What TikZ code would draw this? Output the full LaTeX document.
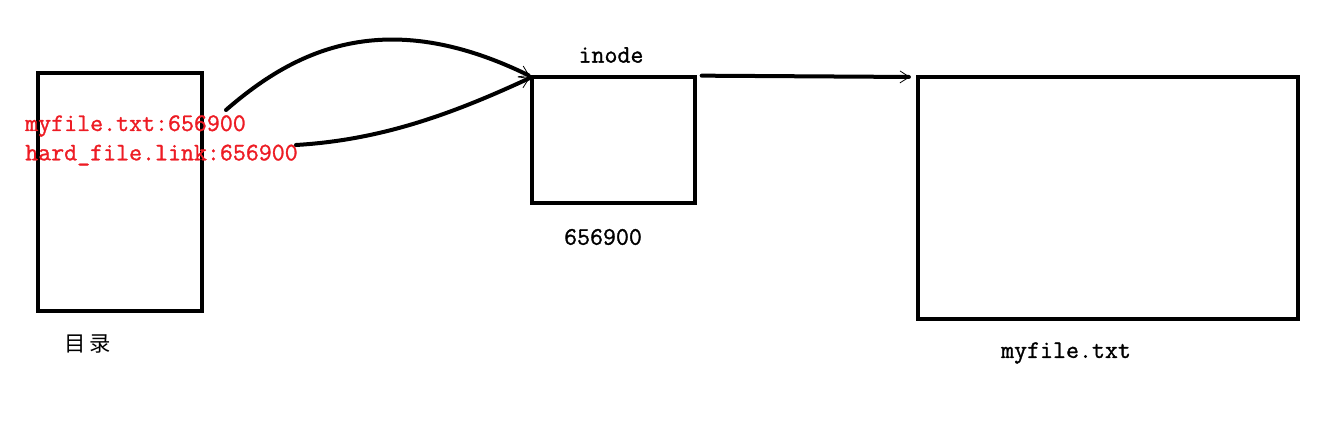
\documentclass[tikz,border=0pt]{standalone}
\usepackage{fontspec}
\newfontfamily\cjkfont{Noto Sans CJK SC}
\newfontfamily\codefont{Latin Modern Mono}[FakeBold=1.2]
\usetikzlibrary{arrows.meta}
\definecolor{paintred}{RGB}{237,28,36}
\tikzset{
  box/.style={draw, line width=3pt, inner sep=0pt, outer sep=0pt},
  lbl/.style={font=\fontsize{18.9}{20}\codefont\bfseries, inner sep=0pt},
  redlbl/.style={lbl, text=paintred, anchor=west},
  link/.style={line width=3pt, line cap=round,
    -{Straight Barb[length=7pt, width=9pt, line width=0.6pt]}, shorten >=2pt}
}
\begin{document}
\begin{tikzpicture}[x=0.75pt, y=-0.75pt]
\useasboundingbox (0,0) rectangle (1341,445);
% the three boxes
\node[box, minimum width=123pt, minimum height=178.5pt] (dir) at (120,192) {};
\node[box, minimum width=122.25pt, minimum height=94.5pt] (inode) at (613.5,140) {};
\node[box, minimum width=285pt, minimum height=181.5pt] (file) at (1108,198) {};
% labels
\node[font=\fontsize{16}{18}\selectfont\cjkfont, inner sep=0pt] (dirname) at (88,344) {目\,录};
\node[lbl] (inodename) at (611,55) {inode};
\node[lbl] (inodenum) at (603,237) {656900};
\node[lbl] (filename) at (1066,353) {myfile.txt};
\node[redlbl] (entry1) at (25,126) {myfile.txt:656900};
\node[redlbl] (entry2) at (25,155) {hard\_file.link:656900};
% links
\coordinate (s1) at (226,110);
\coordinate (s2) at (296,145);
\draw[link] (s1) .. controls (295,50) and (385,5) .. (inode.north west);
\draw[link] (s2) .. controls (380,140) and (450,115) .. (inode.north west);
\draw[link] ([xshift=5pt,yshift=1pt]inode.north east) -- ([xshift=-4pt]file.north west);
\end{tikzpicture}
\end{document}
